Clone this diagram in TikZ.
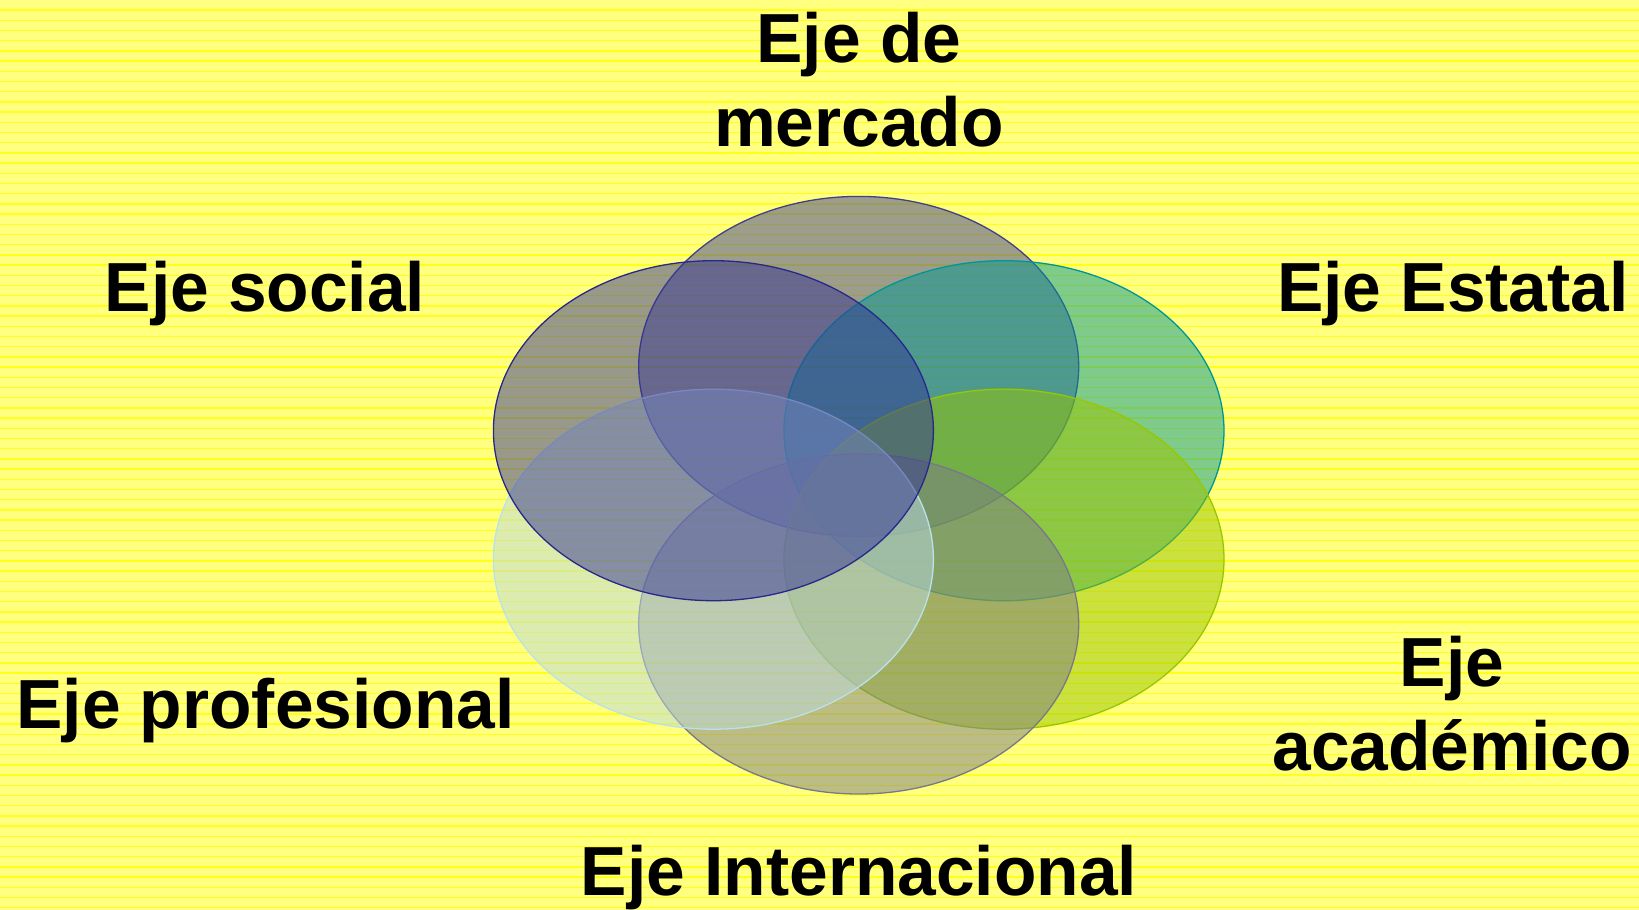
\documentclass[tikz,border=0pt]{standalone}
\usepackage{fontspec}
\setmainfont{Liberation Sans}
\usetikzlibrary{shapes.geometric}
\definecolor{bgyellow}{HTML}{FFFF80}
\definecolor{lineyellow}{HTML}{FFFF1A}
\definecolor{cmerc}{RGB}{60,60,150}
\definecolor{cmercl}{RGB}{64,64,140}
\definecolor{cest}{RGB}{0,153,150}
\definecolor{cestl}{RGB}{0,150,150}
\definecolor{cacad}{RGB}{153,197,0}
\definecolor{cacadl}{RGB}{150,200,0}
\definecolor{cint}{RGB}{123,123,140}
\definecolor{cintl}{RGB}{120,120,140}
\definecolor{cprof}{RGB}{187,219,226}
\definecolor{cprofl}{RGB}{185,225,235}
\definecolor{csoc}{RGB}{50,50,150}
\definecolor{csocl}{RGB}{40,40,140}
\tikzset{
  circ/.style={ellipse, inner sep=0pt, minimum width=440pt, minimum height=340pt, fill opacity=0.5, line width=1.3pt},
  lbl/.style={font=\fontsize{69.5}{84}\selectfont\bfseries, align=center, text=black, inner sep=0pt, anchor=base}
}
\begin{document}
\begin{tikzpicture}[x=1pt,y=-1pt]
\useasboundingbox (0,0) rectangle (1639,910);
\fill[bgyellow] (0,0) rectangle (1639,910);
\foreach \k in {0,...,88} {
  \draw[lineyellow, line width=1.4pt] (0,{10+10.2*\k}) -- (1639,{10+10.2*\k});
}
% ellipses
\node[circ, fill=cmerc, draw=cmercl] (merc) at (858.7,366.4) {};
\node[circ, fill=cest, draw=cestl] (est) at (1004,430.7) {};
\node[circ, fill=cacad, draw=cacadl] (acad) at (1004,559.2) {};
\node[circ, fill=cint, draw=cintl] (inter) at (858.7,624) {};
\node[circ, fill=cprof, draw=cprofl] (prof) at (713.4,559.2) {};
\node[circ, fill=csoc, draw=csocl] (soc) at (713.4,430.7) {};
% labels
\node[lbl] (tmerc) at (859,146) {Eje de\\mercado};
\node[lbl] (tsoc) at (265,311.5) {Eje social};
\node[lbl] (test) at (1453,311.5) {Eje Estatal};
\node[lbl] (tacad) at (1452,770) {Eje\\académico};
\node[lbl] (tprof) at (265.5,728) {Eje profesional};
\node[lbl] (tint) at (859,895) {Eje Internacional};
\end{tikzpicture}
\end{document}
